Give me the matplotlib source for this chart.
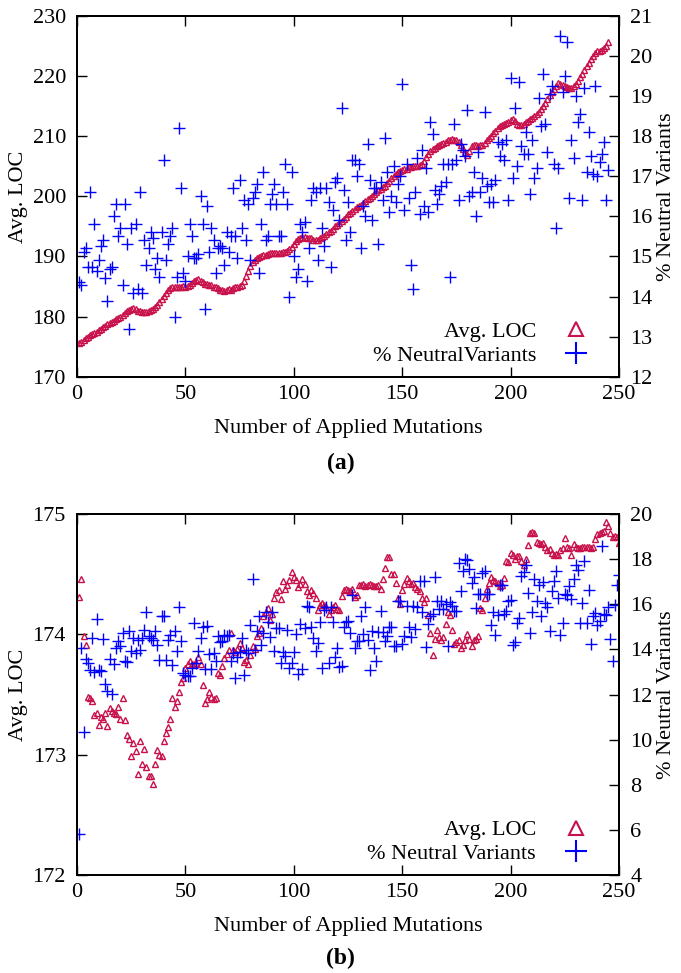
import numpy as np
import matplotlib
matplotlib.use('Agg')
import matplotlib.pyplot as plt
from matplotlib.lines import Line2D

# ---- panel (a) data: one value per applied mutation ----
loc_a = [175.6, 175.8, 176.1, 176.4, 176.6, 176.9, 177.1, 177.3, 177.5, 177.7,
         177.9, 178.2, 178.4, 178.7, 178.9, 179.1, 179.3, 179.6, 179.8, 180.0,
         180.3, 180.6, 180.9, 181.1, 181.3, 181.4, 181.2, 181.0, 180.9, 180.8,
         180.7, 180.7, 180.9, 181.1, 181.3, 181.6, 182.0, 182.5, 183.0, 183.5,
         184.0, 184.4, 184.8, 185.0, 184.9, 185.0, 184.9, 185.0, 185.1, 185.0,
         185.1, 185.3, 185.6, 185.9, 186.1, 186.2, 186.0, 185.8, 185.5, 185.4,
         185.3, 185.2, 185.0, 184.9, 184.7, 184.5, 184.4, 184.3, 184.4, 184.6,
         184.5, 184.7, 184.9, 185.0, 185.1, 185.3, 186.0, 186.8, 187.6, 188.4,
         189.0, 189.4, 189.7, 189.9, 190.1, 190.2, 190.3, 190.4, 190.5, 190.5,
         190.6, 190.6, 190.5, 190.6, 190.8, 190.7, 190.9, 191.2, 191.6, 192.1,
         192.6, 192.9, 193.1, 193.2, 193.2, 193.1, 193.1, 193.0, 192.8, 192.7,
         192.8, 193.0, 193.2, 193.4, 193.7, 194.0, 194.3, 194.6, 195.0, 195.3,
         195.6, 195.9, 196.2, 196.6, 197.0, 197.3, 197.6, 197.9, 198.2, 198.4,
         198.6, 198.9, 199.2, 199.5, 199.8, 200.1, 200.4, 200.7, 201.0, 201.3,
         201.6, 201.8, 202.2, 202.6, 203.0, 203.4, 203.8, 204.0, 204.2, 204.3,
         204.5, 204.6, 204.8, 204.9, 205.0, 205.0, 205.1, 205.2, 205.4, 205.8,
         206.5, 207.1, 207.5, 207.9, 208.1, 208.3, 208.5, 208.7, 208.9, 209.1,
         209.3, 209.4, 209.5, 209.4, 209.3, 209.0, 208.5, 207.9, 207.3, 206.9,
         207.6, 208.4, 208.6, 208.5, 208.4, 208.5, 208.6, 208.9, 209.3, 209.7,
         210.1, 210.5, 210.9, 211.3, 211.7, 211.9, 212.1, 212.2, 212.4, 212.7,
         212.8, 212.5, 212.1, 211.8, 211.9, 212.1, 212.3, 212.5, 212.8, 213.1,
         213.3, 213.7, 214.1, 214.6, 215.1, 215.6, 216.2, 216.8, 217.4, 217.9,
         218.4, 218.8, 218.7, 218.5, 218.4, 218.2, 218.1, 218.1, 218.3, 218.7,
         219.2, 219.8, 220.4, 221.0, 221.6, 222.2, 222.8, 223.4, 223.9, 224.1,
         224.2, 224.4, 224.6, 225.0, 225.6]

nv_a = [14.36, 14.3, 15.1, 15.2, 14.75, 16.6, 14.75, 15.8, 14.65, 14.9,
        15.27, 15.4, 14.47, 13.9, 14.7, 14.75, 16.0, 16.3, 15.5, 15.7,
        14.3, 16.3, 15.3, 13.2, 15.7, 14.1, 15.8, 14.2, 16.6, 14.1,
        15.4, 14.8, 15.2, 15.6, 15.45, 14.7, 14.97, 14.5, 15.6, 17.4,
        14.9, 15.3, 15.5, 15.7, 13.5, 14.5, 18.2, 16.7, 14.6, 14.4,
        15.0, 15.8, 15.5, 14.95, 14.95, 15.05, 16.5, 15.8, 13.7, 16.25,
        15.1,
        15.7, 15.4, 14.6, 15.2, 15.25, 15.2, 14.8, 15.6, 15.1, 15.5,
        16.7, 15.5, 14.95, 16.9, 15.7, 16.4, 15.4, 16.3, 14.9, 16.45,
        16.6, 16.8, 14.6, 15.8, 17.1, 15.4, 15.5, 16.3, 16.55, 16.8,
        16.3, 15.5, 15.5, 16.6, 17.3, 16.3, 14.0, 17.1, 15.0, 14.5,
        14.7, 15.8, 15.6, 15.85, 14.4, 15.2, 16.4, 16.7, 16.6, 14.9,
        16.7, 15.7, 15.25, 16.7, 16.35, 14.75, 16.15, 16.85, 16.95, 15.9,
        18.7, 16.65, 15.4, 16.35, 15.6, 17.4, 17.4, 17.0, 17.3, 15.2,
        16.25, 16.0, 17.8,
        16.9, 15.9,
        16.7, 16.7, 15.3, 16.85, 16.4, 17.95, 17.1, 16.1, 16.5, 17.25,
        16.35, 16.8, 17.0, 19.3, 16.15, 17.3, 16.45, 14.8, 14.2, 16.6,
        17.45, 16.05, 17.65, 16.25, 17.2, 16.1, 18.35, 18.05, 16.65, 16.3,
        16.55, 16.75, 17.3, 16.85, 17.3, 14.5, 17.3, 18.3, 17.4, 16.4,
        17.8, 17.65, 17.5, 18.65, 16.5, 16.6, 17.1, 16.0, 17.6, 16.6,
        16.95, 18.6,
        16.75, 16.35, 16.8, 16.35, 16.9, 17.85, 17.5, 17.8, 17.4, 17.9,
        16.4, 19.45, 16.95, 18.7, 17.25, 19.35, 17.75, 17.55, 18.1, 17.55,
        16.55, 17.9, 16.95, 17.2, 18.95, 18.25, 19.55, 18.3, 17.6, 19.05,
        19.25, 17.3, 15.7, 17.2, 20.5, 19.1, 19.5, 20.35, 16.45, 17.9,
        17.45, 19.0, 18.35, 18.55, 16.4, 19.2, 17.1, 18.1, 17.5, 17.05,
        19.25, 17.0, 17.35, 17.55, 17.85, 16.4, 17.15]

# ---- panel (b) data ----
loc_b = [174.31, 174.46, 173.99, 173.91, 173.48, 173.47, 173.45, 173.33, 173.35, 173.25,
         173.31, 173.30, 173.35, 173.24, 173.39, 173.36, 173.35, 173.34, 173.40, 173.30,
         173.47, 173.29, 173.16, 173.13, 172.99, 173.10, 173.03, 172.84, 173.11, 172.92,
         173.05, 172.90, 172.82, 172.82, 172.76, 172.92, 173.04, 173.00, 172.99, 173.11,
         173.18, 173.23, 173.30, 173.47, 173.40, 173.45, 173.52, 173.60, 173.64, 173.72,
         173.75, 173.78, 173.75, 173.75, 173.76, 173.81, 173.75, 173.58, 173.43, 173.46,
         173.52, 173.48, 173.46, 173.47, 173.68, 173.66, 173.74, 173.80, 173.84, 173.87,
         174.01, 173.87, 173.85, 173.88, 173.93, 173.89, 173.77, 173.79, 173.75, 173.83,
         173.90, 173.88, 173.99, 174.01, 174.05, 174.15, 174.19, 174.22, 174.12, 174.17,
         174.30, 174.35, 174.37, 174.29, 174.44, 174.38, 174.41, 174.45, 174.52, 174.48,
         174.45, 174.39, 174.42, 174.46, 174.42, 174.36, 174.33, 174.37, 174.34, 174.30,
         174.20, 174.24, 174.26, 174.24, 174.23, 174.17, 174.20, 174.23, 174.24, 174.21,
         174.20, 174.32, 174.37, 174.38, 174.37, 174.36, 174.38, 174.31, 174.33, 174.41,
         174.41, 174.42, 174.40, 174.41, 174.42, 174.41, 174.40, 174.40, 174.41, 174.38,
         174.46, 174.55, 174.64, 174.64, 174.50, 174.50, 174.43, 174.30, 174.25, 174.37,
         174.42, 174.47, 174.44, 174.42, 174.43, 174.39, 174.38, 174.36, 174.30, 174.27,
         174.30, 174.16, 174.01, 173.83, 173.96, 174.04, 173.98, 173.95, 173.98, 174.09,
         174.19, 174.16, 174.04, 173.92, 173.94, 173.95, 173.89, 173.91, 173.95, 174.00,
         173.96, 173.90, 173.95, 173.96, 173.99, 174.22, 174.20, 174.30, 174.38, 174.43,
         174.48, 174.45, 174.44, 174.43, 174.40, 174.41, 174.47, 174.61, 174.60, 174.68,
         174.66, 174.63, 174.65, 174.65, 174.61, 174.58, 174.63, 174.74, 174.84, 174.85,
         174.84, 174.77, 174.76, 174.75, 174.76, 174.73, 174.70, 174.71, 174.68, 174.66,
         174.67, 174.66, 174.70, 174.72, 174.80, 174.73, 174.72, 174.66, 174.75, 174.73,
         174.72, 174.72, 174.73, 174.73, 174.73, 174.73, 174.72, 174.73, 174.79, 174.83,
         174.84, 174.85, 174.86, 174.93, 174.90, 174.84, 174.81, 174.82, 174.81, 174.76]

nv_b = [5.83, 14.06, 10.34, 13.59, 13.40, 13.10, 14.50, 12.98, 15.35, 13.10,
        13.03, 14.46, 12.48, 12.14, 13.59, 12.02, 13.35, 14.06, 14.39, 14.17,
        14.74, 13.47, 13.44, 14.83, 13.91, 14.50, 13.84, 14.43, 13.99, 14.50,
        14.87, 15.64, 14.58, 14.50, 14.43, 14.83, 14.21, 13.55, 15.47, 15.47,
        13.55, 14.43, 14.65, 13.29, 14.80, 13.91, 15.86, 14.39, 12.95, 12.88,
        12.80, 12.80, 13.18, 15.17, 13.40, 13.94, 14.50, 14.98, 13.15, 15.05,
        13.81, 13.15, 13.83, 13.49, 14.59, 14.34, 14.38, 14.64, 14.58, 14.64,
        13.49, 13.83, 12.72, 13.68, 13.90, 14.49, 12.87, 13.97, 13.83, 15.08,
        17.10, 13.97, 14.81, 15.49, 14.20, 14.71, 15.64, 15.23, 14.53, 15.67,
        13.93, 14.93, 14.97, 13.38, 13.90, 13.71, 14.86, 13.16, 13.38, 13.90,
        14.68, 12.91, 15.13, 13.12, 14.93, 15.92, 15.86, 15.00, 14.49, 13.94,
        14.30, 15.23, 13.16, 15.75, 15.86, 13.41, 15.89, 15.23, 13.68, 14.05,
        13.23, 13.26, 15.00, 15.23, 15.24, 14.73, 16.40, 14.06, 14.39, 14.39,
        15.50, 14.68, 15.86, 14.43, 13.10, 14.80, 14.06, 13.47, 14.77, 15.72,
        14.77, 14.39, 14.58, 14.99, 14.99, 14.14, 14.14, 16.16, 16.13, 14.25,
        14.60, 15.94, 14.99, 14.53, 15.94, 14.92, 15.86, 17.02, 15.66, 17.05,
        14.11, 15.13, 15.50, 15.55, 17.19, 16.16, 15.79, 16.16, 15.79, 16.01,
        14.16, 16.09, 15.91, 15.69, 15.69, 17.83, 16.57, 17.46, 18.00, 17.95,
        17.58, 16.94, 17.19, 15.83, 16.45, 16.45, 17.39, 17.49, 16.45, 16.45,
        15.07, 15.66, 14.62, 15.51, 16.84, 16.87, 15.57, 15.72, 16.16, 16.20,
        14.21, 14.33, 15.17, 15.39, 17.24, 17.43, 17.75, 16.50, 14.73, 15.66,
        17.13, 16.13, 16.84, 15.47, 16.99, 16.05, 15.86, 14.83, 16.60, 17.05,
        17.46, 16.28, 14.62, 15.17, 16.45, 16.40, 16.79, 16.25, 17.13, 17.75,
        17.53, 15.17, 16.06, 17.90, 15.17, 16.65, 14.24, 15.47, 15.61, 15.10,
        15.24, 18.57, 15.57, 15.54, 15.86, 14.48, 13.50, 15.95, 16.87, 17.31]

xticks = [0, 50, 100, 150, 200, 250]

red = '#C8104A'
blue = '#0000FF'

plt.rcParams['font.family'] = ['Liberation Serif', 'DejaVu Serif']
plt.rcParams['font.size'] = 16

fig = plt.figure(figsize=(6.81, 9.73), dpi=100)


def panel(rect, loc, nv, ylim_l, yticks_l, ylim_r, yticks_r, nv_label, legend_anchor):
    ax = fig.add_axes(rect)
    ax2 = ax.twinx()
    x_loc = np.arange(1, len(loc) + 1)
    x_nv = np.arange(1, len(nv) + 1)
    ax.plot(x_loc, loc, linestyle='none', marker='^', markersize=5,
            markerfacecolor='none', markeredgecolor=red, markeredgewidth=1.0)
    ax2.plot(x_nv, nv, linestyle='none', marker='+', markersize=8,
             color=blue, markeredgewidth=1.0)

    ax.set_xlim(0, 250)
    ax.set_xticks(xticks)
    ax.set_ylim(*ylim_l)
    ax.set_yticks(yticks_l)
    ax2.set_ylim(*ylim_r)
    ax2.set_yticks(yticks_r)

    ax.tick_params(axis='x', direction='in', top=True, length=7, width=1, pad=6)
    ax.tick_params(axis='y', direction='in', length=7, width=1, pad=8)
    ax2.tick_params(axis='y', direction='in', length=7, width=1, pad=8)
    for a in (ax, ax2):
        for s in a.spines.values():
            s.set_linewidth(1.4)

    ax.set_xlabel('Number of Applied Mutations', labelpad=10)
    ax.set_ylabel('Avg. LOC', labelpad=3)
    ax2.set_ylabel('% Neutral Variants', labelpad=3)

    h1 = Line2D([], [], linestyle='none', marker='^', markersize=10,
                markerfacecolor='none', markeredgecolor=red, markeredgewidth=1.5)
    h2 = Line2D([], [], linestyle='none', marker='+', markersize=16,
                color=blue, markeredgewidth=1.5)
    ax2.legend([h1, h2], ['Avg. LOC', nv_label], loc='lower right',
               bbox_to_anchor=legend_anchor, markerfirst=False, frameon=False,
               handlelength=1.2, handletextpad=1.2, labelspacing=0.15,
               borderpad=0, borderaxespad=0)
    return ax


panel([0.1131, 0.6128, 0.7959, 0.3708], loc_a, nv_a,
      (170, 230), range(170, 231, 10), (12, 21), range(12, 22),
      '% NeutralVariants', (0.945, 0.03))
panel([0.1131, 0.1007, 0.7959, 0.3710], loc_b, nv_b,
      (172, 175), range(172, 176), (4, 20), range(4, 21, 2),
      '% Neutral Variants', (0.945, 0.03))

fig.text(0.5, 0.524, '(a)', ha='center', va='center', fontweight='bold', fontsize=17)
fig.text(0.5, 0.0154, '(b)', ha='center', va='center', fontweight='bold', fontsize=17)

fig.savefig('out.png', dpi=100)
